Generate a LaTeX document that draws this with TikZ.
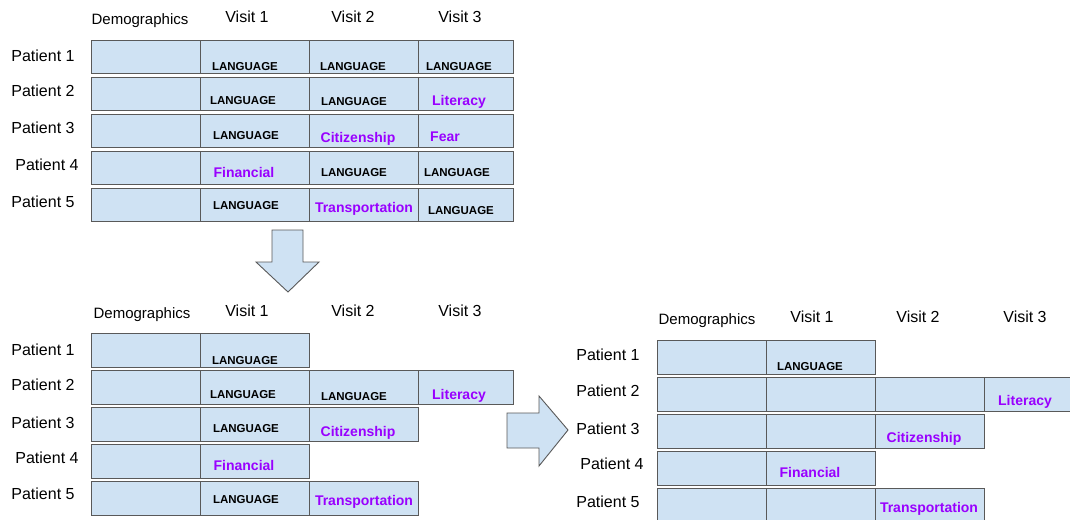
\documentclass[tikz,border=0pt]{standalone}
\usepackage{fontspec}
\setmainfont{Liberation Sans}
\definecolor{cellblue}{RGB}{207, 226, 243}
\definecolor{cellgray}{RGB}{89, 89, 89}
\definecolor{barrierviolet}{RGB}{153, 0, 255}

\begin{document}
\begin{tikzpicture}[x=1pt, y=-1pt,
        cell/.style={draw=cellgray, fill=cellblue, line width=1.3pt, minimum height=33pt, inner sep=0pt, anchor=north west},
        head/.style={font=\fontsize{16}{19}\selectfont, text depth=0pt},
        demo/.style={font=\fontsize{15}{18}\selectfont, text depth=0pt},
        lang/.style={font=\bfseries\fontsize{11.5}{13}\selectfont, text depth=0pt},
        barrier/.style={font=\bfseries\fontsize{14}{16}\selectfont, text=barrierviolet, text depth=0pt},
        blockarrow/.style={draw=cellgray, fill=cellblue, line width=0.9pt, line join=miter}]
    \clip (0,0) rectangle (1070,519);

    % all barriers
    \foreach \r/\y in {1/40,2/77,3/114,4/151,5/188}
        \foreach \c/\x/\w in {0/91/109,1/200/109,2/309/109,3/418/95}
            \node[cell, minimum width=\w] (pre-\r-\c) at (\x,\y) {};
    \node[demo] (pre-demo) at (140,19) {Demographics};
    \node[head] (pre-v1)   at (247,17) {Visit 1};
    \node[head] (pre-v2)   at (353,17) {Visit 2};
    \node[head] (pre-v3)   at (460,17) {Visit 3};
    \node[head] (pre-p1)   at (43,56)  {Patient 1};
    \node[head] (pre-p2)   at (43,91)  {Patient 2};
    \node[head] (pre-p3)   at (43,128) {Patient 3};
    \node[head] (pre-p4)   at (47,165) {Patient 4};
    \node[head] (pre-p5)   at (43,202) {Patient 5};
    \node[lang]    (pre-t11) at (245,66)  {LANGUAGE};
    \node[lang]    (pre-t12) at (353,66)  {LANGUAGE};
    \node[lang]    (pre-t13) at (459,66)  {LANGUAGE};
    \node[lang]    (pre-t21) at (243,100) {LANGUAGE};
    \node[lang]    (pre-t22) at (354,101) {LANGUAGE};
    \node[barrier] (pre-t23) at (459,100) {Literacy};
    \node[lang]    (pre-t31) at (246,135) {LANGUAGE};
    \node[barrier] (pre-t32) at (358,137) {Citizenship};
    \node[barrier] (pre-t33) at (445,137) {Fear};
    \node[barrier] (pre-t41) at (244,172) {Financial};
    \node[lang]    (pre-t42) at (354,172) {LANGUAGE};
    \node[lang]    (pre-t43) at (457,172) {LANGUAGE};
    \node[lang]    (pre-t51) at (246,205) {LANGUAGE};
    \node[barrier] (pre-t52) at (364,207) {Transportation};
    \node[lang]    (pre-t53) at (461,210) {LANGUAGE};

    \filldraw[blockarrow] (272,230) -- (303,230) -- (303,262) -- (319,262) -- (288,292) -- (256,262) -- (272,262) -- cycle;

    % cut after first non-language barrier
    \foreach \r/\y/\n in {1/333/1,2/370/3,3/407/2,4/444/1,5/481/2}
        \foreach \c/\x/\w in {0/91/109,1/200/109,2/309/109,3/418/95}
            {\ifnum\c>\n\else\node[cell, minimum width=\w, minimum height=34] (mid-\r-\c) at (\x,\y) {};\fi}
    \node[demo] (mid-demo) at (142,313) {Demographics};
    \node[head] (mid-v1)   at (247,311) {Visit 1};
    \node[head] (mid-v2)   at (353,311) {Visit 2};
    \node[head] (mid-v3)   at (460,311) {Visit 3};
    \node[head] (mid-p1)   at (43,350)  {Patient 1};
    \node[head] (mid-p2)   at (43,385)  {Patient 2};
    \node[head] (mid-p3)   at (43,423)  {Patient 3};
    \node[head] (mid-p4)   at (47,458)  {Patient 4};
    \node[head] (mid-p5)   at (43,494)  {Patient 5};
    \node[lang]    (mid-t11) at (245,360) {LANGUAGE};
    \node[lang]    (mid-t21) at (243,394) {LANGUAGE};
    \node[lang]    (mid-t22) at (354,396) {LANGUAGE};
    \node[barrier] (mid-t23) at (459,394) {Literacy};
    \node[lang]    (mid-t31) at (246,428) {LANGUAGE};
    \node[barrier] (mid-t32) at (358,431) {Citizenship};
    \node[barrier] (mid-t41) at (244,465) {Financial};
    \node[lang]    (mid-t51) at (246,499) {LANGUAGE};
    \node[barrier] (mid-t52) at (364,500) {Transportation};

    \filldraw[blockarrow] (507,413) -- (539,413) -- (539,396) -- (568,430) -- (539,466) -- (539,448) -- (507,448) -- cycle;

    % language only kept at first visit
    \foreach \r/\y/\n in {1/340/1,2/377/3,3/414/2,4/451/1,5/488/2}
        \foreach \c/\x in {0/657,1/766,2/875,3/984}
            {\ifnum\c>\n\else\node[cell, minimum width=109, minimum height=34] (post-\r-\c) at (\x,\y) {};\fi}
    \node[demo] (post-demo) at (707,319) {Demographics};
    \node[head] (post-v1)   at (812,317) {Visit 1};
    \node[head] (post-v2)   at (918,317) {Visit 2};
    \node[head] (post-v3)   at (1025,317) {Visit 3};
    \node[head] (post-p1)   at (608,355) {Patient 1};
    \node[head] (post-p2)   at (608,391) {Patient 2};
    \node[head] (post-p3)   at (608,429) {Patient 3};
    \node[head] (post-p4)   at (612,464) {Patient 4};
    \node[head] (post-p5)   at (608,502) {Patient 5};
    \node[lang]    (post-t11) at (810,366)  {LANGUAGE};
    \node[barrier] (post-t23) at (1025,400) {Literacy};
    \node[barrier] (post-t32) at (924,437)  {Citizenship};
    \node[barrier] (post-t41) at (810,472)  {Financial};
    \node[barrier] (post-t52) at (929,507)  {Transportation};
\end{tikzpicture}
\end{document}
